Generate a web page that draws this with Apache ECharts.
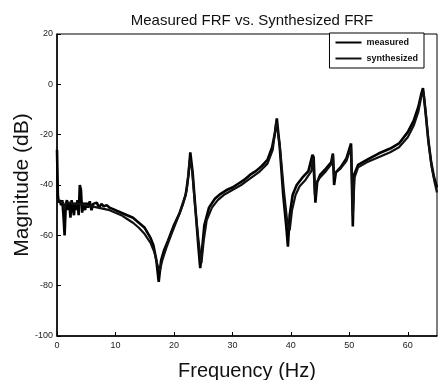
<!DOCTYPE html>
<html>
<head>
<meta charset="utf-8">
<script src="https://cdn.jsdelivr.net/npm/echarts@6/dist/echarts.min.js"></script>
<style>
  html, body { margin: 0; padding: 0; background: #fff; }
  #chart { width: 438px; height: 380px; }
</style>
</head>
<body>
<div id="chart"></div>
<script>
// Measured FRF (Hz, dB) — noisy at low frequency
const freqMeasured = [
  0, 0.15, 0.3, 0.5, 0.7, 0.9, 1.1, 1.3, 1.5, 1.7, 1.9, 2.1, 2.3, 2.5, 2.7, 2.9,
  3.1, 3.3, 3.5, 3.7, 3.9, 4.1, 4.3, 4.5, 4.8, 5.0, 5.3, 5.6, 5.9, 6.2, 6.5, 6.8,
  7.2, 7.6, 8.0, 8.5, 9, 9.5, 10, 11, 12, 13, 14, 15, 16, 16.5, 17, 17.4, 17.8,
  18.3, 19, 20, 21, 22, 22.5, 22.8, 23.2, 23.7, 24.2, 24.5, 24.8, 25.2, 26, 27,
  28, 29, 30, 31, 32, 33, 34, 35, 36, 36.8, 37.3, 37.6, 38.1, 38.7, 39.2, 39.5,
  39.8, 40.3, 41, 42, 43, 43.7, 43.9, 44.2, 44.5, 45, 46, 46.9, 47.2, 47.4, 47.7,
  48.5, 49.5, 50.3, 50.6, 50.8, 51.5, 53, 55, 57, 58.5, 60, 61, 61.8, 62.3, 62.6,
  63.0, 63.5, 64, 64.5, 65
];
const magMeasured = [
  -26, -44, -47, -46, -48, -46, -52, -60, -48, -46, -50, -47, -53, -46, -49, -52,
  -47, -50, -46, -52, -40, -42, -51, -47, -50, -47, -49, -46.5, -50, -47.5, -48, -47,
  -49, -47.5, -48.5, -48, -49, -49.5, -50, -51, -52, -53, -55, -57, -61, -64, -70, -78.5, -70,
  -66, -62, -56, -51, -44, -36, -27, -35, -50, -65, -73, -66, -56, -49, -45.5,
  -43.5, -42, -41, -39.5, -38, -36, -34.5, -32.5, -30, -25, -19, -13.5, -25, -44, -56, -64.5,
  -52, -44, -40, -37, -34.5, -28, -29, -47, -39, -36, -33.5, -31, -27.5, -40, -35,
  -33, -29.5, -23.5, -56.5, -36, -32, -30, -27.5, -25.5, -23.5, -19, -14.5, -9, -4, -1.5,
  -10, -22, -31, -37, -41
];

// Synthesized FRF (Hz, dB) — smooth fit
const freqSynth = [
  0, 0.5, 1, 1.3, 1.5, 2, 3, 4, 5, 6, 7, 8, 9, 10, 11, 12, 13, 14, 15, 16, 16.7,
  17.2, 17.6, 18, 18.7, 19.5, 20.5, 21.5, 22.2, 22.7, 23.1, 23.6, 24.2, 24.7, 25.1,
  25.6, 26.5, 27.5, 28.5, 30, 31.5, 33, 34.5, 36, 36.9, 37.5, 38.1, 38.8, 39.4, 39.8,
  40.2, 40.8, 41.5, 42.5, 43.5, 43.8, 44.1, 44.4, 45, 46, 47, 47.2, 47.4, 47.7, 48.5,
  49.5, 50.3, 50.6, 50.9, 51.5, 53, 55, 57, 58.5, 60, 61, 61.8, 62.3, 62.7, 63.1,
  63.6, 64.1, 64.6, 65
];
const magSynth = [
  -46, -46.5, -47, -50, -47, -47, -47.5, -47.5, -48, -48.5, -49, -49.5, -50, -51, -52,
  -53.5, -55, -57, -59.5, -63, -67, -72, -74, -70, -65, -60, -54, -48, -42, -30, -34,
  -48, -62, -71, -62, -54, -49, -46, -44, -42, -40, -37.5, -35, -31.5, -26, -15, -24,
  -42, -55, -58, -50, -44, -40.5, -38, -34.5, -29, -44, -39, -37, -34.5, -31.5, -28,
  -37, -35, -33.5, -30.5, -25, -52, -37, -33, -31, -29, -27, -25, -21, -16.5, -11,
  -5, -3, -12, -24, -33, -39, -43
];

const xTicks = { min: 0, max: 65, interval: 10 };
const yTicks = { min: -100, max: 20, interval: 20 };

const pairs = (xs, ys) => xs.map((x, i) => [x, ys[i]]);

const FONT = '"Liberation Sans", Arial, sans-serif';
const chart = echarts.init(document.getElementById('chart'), null, { renderer: 'canvas' });

chart.setOption({
  animation: false,
  backgroundColor: '#fff',
  title: {
    text: 'Measured FRF vs. Synthesized FRF',
    left: 247,
    textAlign: 'center',
    top: 8,
    textStyle: { fontFamily: FONT, fontSize: 15, fontWeight: 'normal', color: '#111' }
  },
  legend: {
    orient: 'vertical',
    right: 14,
    top: 33,
    padding: [5, 6, 5, 6],
    itemGap: 7,
    itemWidth: 26,
    itemHeight: 2,
    icon: 'rect',
    borderColor: '#000',
    borderWidth: 1,
    borderRadius: 0,
    backgroundColor: '#fff',
    textStyle: { fontFamily: FONT, fontSize: 9, fontWeight: 'bold', color: '#111' },
    data: ['measured', 'synthesized']
  },
  grid: {
    left: 57, right: 1, top: 34, bottom: 44,
    outerBoundsMode: 'none',
    containLabel: false,
    show: true, borderColor: '#000', borderWidth: 1, backgroundColor: 'transparent'
  },
  xAxis: {
    type: 'value',
    min: xTicks.min, max: xTicks.max, interval: xTicks.interval,
    name: 'Frequency (Hz)',
    nameLocation: 'middle',
    nameGap: 25,
    nameMoveOverlap: false,
    nameTextStyle: { fontFamily: FONT, fontSize: 20, color: '#111' },
    axisLine: { show: true, onZero: false, lineStyle: { color: '#000', width: 1.5 } },
    axisTick: { show: true, inside: true, length: 4, lineStyle: { color: '#000' } },
    axisLabel: { fontFamily: FONT, fontSize: 9, color: '#222', margin: 5,
      showMaxLabel: false },
    splitLine: { show: false }
  },
  yAxis: {
    type: 'value',
    min: yTicks.min, max: yTicks.max, interval: yTicks.interval,
    name: 'Magnitude (dB)',
    nameLocation: 'middle',
    nameGap: 24,
    nameMoveOverlap: false,
    nameTextStyle: { fontFamily: FONT, fontSize: 21, color: '#111' },
    axisLine: { show: true, onZero: false, lineStyle: { color: '#000', width: 1.5 } },
    axisTick: { show: true, inside: true, length: 4, lineStyle: { color: '#000' } },
    axisLabel: { fontFamily: FONT, fontSize: 9, color: '#222', margin: 4 },
    splitLine: { show: false }
  },
  series: [
    {
      name: 'measured',
      type: 'line',
      data: pairs(freqMeasured, magMeasured),
      showSymbol: false,
      lineStyle: { color: '#000', width: 2.6 },
      itemStyle: { color: '#000' }
    },
    {
      name: 'synthesized',
      type: 'line',
      data: pairs(freqSynth, magSynth),
      showSymbol: false,
      lineStyle: { color: '#111', width: 2.2 },
      itemStyle: { color: '#111' }
    }
  ]
});
</script>
</body>
</html>
